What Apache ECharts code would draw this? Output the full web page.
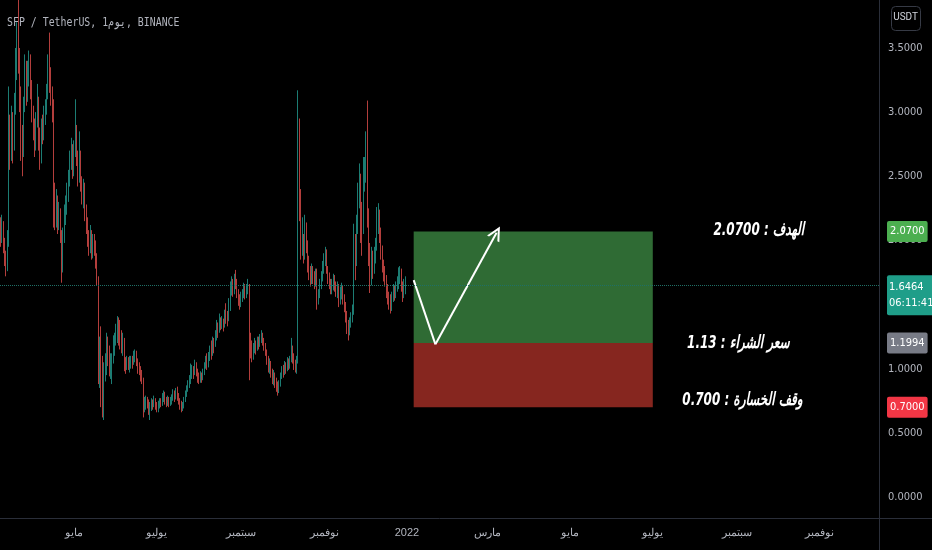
<!DOCTYPE html>
<html>
<head>
<meta charset="utf-8">
<script src="https://cdn.jsdelivr.net/npm/echarts@6/dist/echarts.min.js"></script>
<style>
html,body{margin:0;padding:0;background:#000;}
#c{width:932px;height:550px;}
</style>
</head>
<body>
<div id="c"></div>
<script>
// ---- data ----
const firstDate = '2021-03-08';
const lastAxisDate = '2022-12-14';
const firstOpen = 2.10;
const closes = [2.02,2.12,1.98,1.88,1.80,1.98,2.85,2.70,2.95,2.72,
3.05,3.35,3.55,3.40,3.10,2.75,2.68,3.05,3.35,3.15,
3.30,3.42,3.20,3.00,2.85,2.72,2.92,3.10,2.80,2.62,
2.88,2.82,2.98,3.02,3.15,3.38,3.22,3.12,3.00,2.35,
2.18,2.32,2.12,2.22,2.05,1.78,2.02,2.20,2.25,2.38,
2.48,2.62,2.72,2.55,2.70,2.85,2.65,2.50,2.68,2.45,
2.35,2.42,2.22,2.15,2.00,1.95,2.05,1.90,2.00,1.95,
1.85,1.70,1.05,1.08,0.90,0.80,0.98,1.05,1.22,1.12,
1.00,1.05,1.08,1.20,1.25,1.30,1.38,1.32,1.25,1.18,
1.22,1.05,1.02,1.07,1.03,1.06,1.08,1.04,1.10,1.12,
1.06,1.02,1.00,0.95,0.92,0.70,0.72,0.76,0.74,0.68,
0.72,0.74,0.73,0.76,0.72,0.69,0.72,0.75,0.73,0.78,
0.80,0.76,0.74,0.76,0.73,0.75,0.78,0.80,0.78,0.82,
0.79,0.75,0.73,0.70,0.72,0.76,0.80,0.84,0.88,0.92,
0.95,1.00,0.96,1.03,0.98,0.94,0.91,0.95,0.92,0.96,
1.02,1.06,1.04,1.10,1.14,1.12,1.20,1.18,1.26,1.33,
1.30,1.38,1.34,1.36,1.32,1.42,1.40,1.38,1.50,1.62,
1.66,1.60,1.70,1.68,1.58,1.55,1.50,1.56,1.59,1.62,
1.58,1.62,1.65,1.22,1.18,1.10,1.15,1.20,1.16,1.22,
1.19,1.24,1.26,1.22,1.18,1.14,1.08,1.02,1.05,0.98,
0.93,0.96,0.90,0.86,0.84,0.88,0.94,0.99,0.96,1.02,
1.00,1.05,1.02,1.06,1.16,1.10,1.04,1.01,1.06,2.70,
2.30,1.95,2.00,1.92,2.12,1.98,1.82,1.75,1.70,1.78,
1.72,1.68,1.74,1.52,1.58,1.66,1.70,1.78,1.84,1.90,
1.78,1.72,1.66,1.62,1.65,1.70,1.64,1.60,1.64,1.55,
1.60,1.63,1.56,1.50,1.42,1.34,1.28,1.35,1.40,1.45,
2.02,1.82,2.10,2.35,2.50,2.25,2.10,2.40,2.55,2.72,
2.20,1.92,1.68,1.85,1.78,1.88,1.96,2.15,2.22,2.05,
1.92,1.82,1.75,1.70,1.62,1.55,1.50,1.47,1.55,1.62,
1.58,1.64,1.68,1.72,1.76,1.66,1.58,1.62,1.6464];
const highs = [2.18,2.20,2.15,2.02,1.92,2.08,3.20,2.98,3.05,3.00,
3.15,3.50,3.70,3.88,3.50,3.20,2.90,3.12,3.45,3.40,
3.40,3.48,3.45,3.25,3.05,2.95,3.00,3.22,3.12,2.88,
2.95,2.98,3.05,3.10,3.22,3.45,3.62,3.35,3.20,3.10,
2.45,2.40,2.35,2.30,2.25,2.08,2.10,2.28,2.35,2.45,
2.55,2.70,2.80,2.75,2.78,3.10,2.90,2.70,2.85,2.70,
2.50,2.48,2.45,2.28,2.18,2.08,2.12,2.08,2.05,2.05,
2.00,1.90,1.72,1.25,1.33,1.10,1.05,1.12,1.28,1.25,
1.18,1.12,1.12,1.26,1.28,1.35,1.41,1.40,1.38,1.30,
1.28,1.24,1.09,1.10,1.09,1.10,1.10,1.10,1.14,1.15,
1.14,1.08,1.05,1.02,0.99,0.93,0.78,0.79,0.78,0.76,
0.74,0.77,0.76,0.79,0.77,0.74,0.75,0.77,0.77,0.81,
0.83,0.82,0.78,0.79,0.78,0.78,0.80,0.84,0.83,0.85,
0.86,0.81,0.77,0.75,0.74,0.78,0.83,0.87,0.91,0.95,
1.04,1.03,1.02,1.07,1.05,1.00,0.97,0.98,0.97,1.00,
1.05,1.10,1.12,1.13,1.18,1.22,1.25,1.24,1.30,1.38,
1.36,1.43,1.40,1.41,1.39,1.46,1.51,1.45,1.55,1.68,
1.72,1.70,1.74,1.77,1.70,1.62,1.58,1.60,1.62,1.67,
1.66,1.66,1.70,1.66,1.28,1.22,1.20,1.24,1.22,1.25,
1.25,1.27,1.30,1.28,1.24,1.20,1.15,1.10,1.08,1.06,
1.00,0.99,0.97,0.93,0.90,0.91,0.97,1.02,1.03,1.06,
1.05,1.09,1.08,1.10,1.24,1.18,1.12,1.07,1.10,3.17,
2.95,2.40,2.18,2.05,2.20,2.14,2.00,1.88,1.80,1.82,
1.80,1.76,1.78,1.78,1.62,1.70,1.76,1.84,1.90,1.95,
1.93,1.80,1.75,1.70,1.70,1.74,1.73,1.68,1.68,1.66,
1.64,1.67,1.65,1.58,1.52,1.45,1.38,1.40,1.44,1.50,
2.13,2.05,2.20,2.45,2.60,2.52,2.30,2.65,2.65,2.85,
3.09,2.25,1.98,1.95,1.92,1.95,2.02,2.26,2.29,2.24,
2.10,1.96,1.85,1.80,1.73,1.66,1.60,1.58,1.60,1.66,
1.65,1.68,1.72,1.79,1.80,1.78,1.68,1.70,1.72];
const lows = [1.95,1.98,1.90,1.80,1.72,1.76,1.95,2.55,2.62,2.60,
2.70,2.98,3.25,3.30,3.00,2.62,2.50,2.65,3.00,3.05,
3.08,3.20,3.10,2.92,2.78,2.65,2.70,2.88,2.70,2.55,
2.60,2.75,2.78,2.90,2.98,3.10,3.15,3.05,2.92,2.10,
2.08,2.10,2.05,2.08,1.98,1.67,1.75,1.98,2.12,2.20,
2.30,2.42,2.55,2.48,2.50,2.65,2.58,2.42,2.45,2.38,
2.28,2.25,2.15,2.05,1.95,1.88,1.90,1.85,1.86,1.88,
1.78,1.65,0.88,0.85,0.70,0.62,0.60,0.90,0.95,1.02,
0.94,0.92,0.88,1.04,1.10,1.18,1.20,1.18,1.15,1.12,
1.10,0.98,0.96,0.99,0.99,0.97,1.00,1.00,1.03,1.05,
1.02,0.96,0.95,0.90,0.88,0.62,0.66,0.68,0.69,0.64,
0.60,0.67,0.68,0.70,0.68,0.66,0.66,0.69,0.70,0.71,
0.74,0.72,0.70,0.71,0.70,0.71,0.72,0.75,0.74,0.76,
0.75,0.72,0.68,0.66,0.67,0.69,0.74,0.78,0.82,0.85,
0.88,0.92,0.92,0.95,0.94,0.89,0.88,0.89,0.89,0.91,
0.95,1.00,0.99,1.01,1.06,1.07,1.10,1.12,1.17,1.22,
1.24,1.28,1.30,1.31,1.29,1.32,1.35,1.33,1.37,1.45,
1.57,1.56,1.58,1.62,1.55,1.49,1.46,1.48,1.52,1.55,
1.54,1.55,1.58,0.91,1.08,1.05,1.07,1.12,1.11,1.14,
1.15,1.17,1.20,1.18,1.14,1.10,1.03,0.97,0.96,0.93,
0.88,0.87,0.85,0.82,0.79,0.81,0.86,0.92,0.93,0.95,
0.96,0.98,0.99,1.00,1.05,1.04,0.99,0.97,0.96,1.04,
2.15,1.85,1.88,1.82,1.85,1.90,1.75,1.69,1.64,1.66,
1.66,1.62,1.64,1.46,1.50,1.55,1.62,1.68,1.74,1.80,
1.74,1.66,1.62,1.58,1.58,1.61,1.60,1.56,1.55,1.48,
1.50,1.54,1.50,1.44,1.36,1.27,1.22,1.26,1.32,1.36,
1.42,1.69,1.80,2.05,2.25,1.98,1.88,2.05,2.38,2.45,
2.10,1.80,1.59,1.65,1.70,1.74,1.82,1.92,2.05,1.98,
1.85,1.75,1.68,1.64,1.55,1.50,1.46,1.43,1.45,1.52,
1.53,1.55,1.60,1.62,1.66,1.60,1.52,1.55,1.58];

const yTicks = [0, 0.5, 1.0, 1.5, 2.0, 2.5, 3.0, 3.5];
const monthNames = ['يناير','فبراير','مارس','أبريل','مايو','يونيو','يوليو','أغسطس','سبتمبر','أكتوبر','نوفمبر','ديسمبر'];

const lastPrice = 1.6464, lastTimer = '06:11:41';
const targetPrice = 2.07, entryPrice = 1.1994, stopPrice = 0.70;
const boxStart = '2022-01-06', boxEnd = '2022-07-01';
const arrowDown = [['2022-01-06', 1.69], ['2022-01-22', 1.19]];
const arrowUp = [['2022-01-22', 1.19], ['2022-03-08', 2.06]];
const notes = [
  ['2022-09-17', 2.08, '2.0700 : الهدف'],
  ['2022-09-02', 1.20, '1.13 : سعر الشراء'],
  ['2022-09-05', 0.75, '0.700 : وقف الخسارة']
];
const title = 'SFP / TetherUS, 1يوم, BINANCE';

// ---- build ----
function dateList(a, b) {
  const out = [];
  const pa = a.split('-').map(Number), pb = b.split('-').map(Number);
  let t = Date.UTC(pa[0], pa[1]-1, pa[2]);
  const e = Date.UTC(pb[0], pb[1]-1, pb[2]);
  while (t <= e) {
    const d = new Date(t);
    out.push(d.getUTCFullYear() + '-' + String(d.getUTCMonth()+1).padStart(2,'0') + '-' + String(d.getUTCDate()).padStart(2,'0'));
    t += 86400000;
  }
  return out;
}
const dates = dateList(firstDate, lastAxisDate);
const candles = closes.map((c, i) => [i === 0 ? firstOpen : closes[i-1], c, lows[i], highs[i]]);

const chart = echarts.init(document.getElementById('c'), null, {renderer: 'canvas'});
const tagFont = "'DejaVu Sans Condensed', Roboto, sans-serif";
const tagLabel = (bg, text, extra) => Object.assign({
  show: true, position: 'end', distance: 8, formatter: text,
  backgroundColor: bg, color: '#ffffff', padding: [3, 3, 3, 3], borderRadius: 2,
  fontSize: 11, fontFamily: tagFont, lineHeight: 15
}, extra || {});
const hidden = {color: 'rgba(0,0,0,0)', width: 0};

const baseGraphic = [
  {type: 'text', left: 7, top: 16, scaleX: 0.76,
   style: {text: title, fill: '#b2b5be', font: '13px "DejaVu Sans Mono", monospace'}},
  {type: 'rect', right: 11, top: 6, shape: {width: 29, height: 24, r: 4},
   style: {fill: '#000', stroke: '#363a45', lineWidth: 1}},
  {type: 'text', right: 14, top: 12,
   style: {text: 'USDT', fill: '#d1d4dc', font: '10px Roboto, sans-serif'}},
  {type: 'line', shape: {x1: 879, y1: 518.5, x2: 932, y2: 518.5}, style: {stroke: '#2a2e39', lineWidth: 1}},
  {type: 'line', shape: {x1: 879.5, y1: 518, x2: 879.5, y2: 550}, style: {stroke: '#2a2e39', lineWidth: 1}}
];

chart.setOption({
  animation: false,
  backgroundColor: '#000000',
  grid: {left: 0, right: 53, top: 0, bottom: 32},
  xAxis: {
    type: 'category', data: dates, boundaryGap: true,
    axisLine: {show: true, onZero: false, lineStyle: {color: '#2a2e39'}},
    axisTick: {show: false},
    splitLine: {show: false},
    axisLabel: {
      color: '#b2b5be', fontSize: 11, margin: 9,
      interval: (i, v) => v.slice(8) === '01' && (Number(v.slice(5,7)) % 2 === 1),
      formatter: v => {
        const m = Number(v.slice(5,7));
        return m === 1 ? v.slice(0,4) : monthNames[m-1];
      }
    }
  },
  yAxis: {
    type: 'value', position: 'right', min: -0.164, max: 3.874, scale: true,
    axisLine: {show: true, lineStyle: {color: '#2a2e39'}},
    axisTick: {show: false},
    splitLine: {show: false},
    axisLabel: {
      color: '#b2b5be', fontSize: 11, margin: 9,
      fontFamily: tagFont,
      customValues: yTicks,
      formatter: v => v.toFixed(4)
    }
  },
  graphic: baseGraphic,
  series: [
    {
      type: 'candlestick', data: candles, barWidth: '70%',
      itemStyle: {color: '#26a69a', color0: '#ef5350', borderColor: '#26a69a', borderColor0: '#ef5350', opacity: 0.75},
      markArea: {
        silent: true,
        data: [
          [{xAxis: boxStart, yAxis: targetPrice, itemStyle: {color: '#2f6b34'}}, {xAxis: boxEnd, yAxis: entryPrice}],
          [{xAxis: boxStart, yAxis: entryPrice, itemStyle: {color: '#86261f'}}, {xAxis: boxEnd, yAxis: stopPrice}]
        ]
      },
      markLine: {
        silent: true, symbol: ['none', 'none'],
        data: [
          {yAxis: lastPrice, lineStyle: {color: '#1f6f66', type: 'dotted', width: 1},
           label: tagLabel('#1f9e89', lastPrice.toFixed(4) + '\n' + lastTimer,
             {padding: [4, 2, 4, 2], lineHeight: 16, offset: [0, 10]})},
          {yAxis: targetPrice, lineStyle: hidden, label: tagLabel('#4caf50', targetPrice.toFixed(4))},
          {yAxis: entryPrice, lineStyle: hidden, label: tagLabel('#787b86', entryPrice.toFixed(4))},
          {yAxis: stopPrice, lineStyle: hidden, label: tagLabel('#f23645', stopPrice.toFixed(4))}
        ]
      }
    },
    {
      type: 'lines', coordinateSystem: 'cartesian2d', silent: true,
      symbol: ['none', 'none'],
      lineStyle: {color: '#ffffff', width: 2, opacity: 1},
      data: [{coords: arrowDown}]
    },
    {
      type: 'lines', coordinateSystem: 'cartesian2d', silent: true,
      symbol: ['none', 'path://M0,10 L5,0 L10,10 L8.4,10 L5,3.2 L1.6,10 Z'], symbolSize: 14,
      lineStyle: {color: '#ffffff', width: 2, opacity: 1},
      data: [{coords: arrowUp}]
    }
  ]
});

// annotation texts placed at data coordinates
const noteGraphic = notes.map(n => {
  const p = chart.convertToPixel({gridIndex: 0}, [n[0], n[1]]);
  return {type: 'text', x: p[0], y: p[1], scaleX: 0.74, silent: true,
    style: {text: n[2], fill: '#ffffff', textAlign: 'center', textVerticalAlign: 'middle',
      font: "italic bold 18px 'DejaVu Sans Condensed', 'Liberation Sans', sans-serif"}};
});
chart.setOption({graphic: baseGraphic.concat(noteGraphic)});
</script>
</body>
</html>
